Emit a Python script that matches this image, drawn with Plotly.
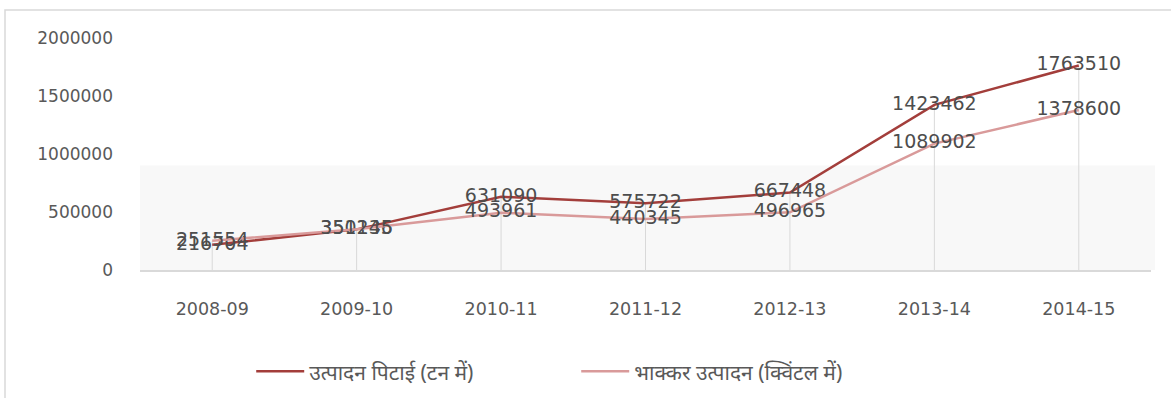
import plotly.graph_objects as go

# Years on the category axis
years = ["2008-09", "2009-10", "2010-11", "2011-12", "2012-13", "2013-14", "2014-15"]

# Threshing output (tonnes) and bhakkar output (quintals)
pitai = [216704, 350136, 631090, 575722, 667448, 1423462, 1763510]
bhakkar = [251554, 351245, 493961, 440345, 496965, 1089902, 1378600]

name_pitai = "उत्पादन पिटाई (टन में)"
name_bhakkar = "भाक्कर उत्पादन (क्विंटल में)"

y_ticks = [0, 500000, 1000000, 1500000, 2000000]

label_font = dict(family="'DejaVu Sans', sans-serif", size=19, color="#4d4d4d")
tick_font = dict(family="'DejaVu Sans', sans-serif", size=17, color="#595959")

fig = go.Figure()

# Drop lines from the higher point of each year down to the axis
drop_x, drop_y = [], []
for yr, a, b in zip(years, pitai, bhakkar):
    drop_x += [yr, yr, None]
    drop_y += [0, max(a, b), None]
fig.add_trace(go.Scatter(
    x=drop_x, y=drop_y, mode="lines",
    line=dict(color="#d9d9d9", width=1),
    showlegend=False, hoverinfo="skip",
))

fig.add_trace(go.Scatter(
    x=years, y=pitai, name=name_pitai,
    mode="lines+text", text=[str(v) for v in pitai],
    textposition="middle center", textfont=label_font,
    line=dict(color="#a33e3b", width=2.5),
))
fig.add_trace(go.Scatter(
    x=years, y=bhakkar, name=name_bhakkar,
    mode="lines+text", text=[str(v) for v in bhakkar],
    textposition="middle center", textfont=label_font,
    line=dict(color="#d99a9a", width=2.5),
))

# Faintly shaded band in the lower part of the plot area
fig.add_shape(
    type="rect", xref="paper", yref="y",
    x0=0, x1=1.004, y0=0, y1=900000,
    fillcolor="#f8f8f8", line=dict(width=0), layer="below",
)

# Outer chart border
fig.add_shape(
    type="rect", xref="paper", yref="paper",
    x0=-135 / 1011, x1=1.2, y0=-1.3, y1=260 / 232,
    line=dict(color="#d9d9d9", width=1.5), fillcolor="rgba(0,0,0,0)",
)

fig.update_layout(
    width=1171, height=398,
    margin=dict(l=140, r=20, t=38, b=128, autoexpand=False),
    paper_bgcolor="white", plot_bgcolor="white",
    showlegend=True,
    legend=dict(
        orientation="h", x=0.11, xanchor="left", y=-0.35, yanchor="top",
        font=dict(family="'Noto Sans', 'DejaVu Sans', sans-serif", size=21, color="#595959"),
        entrywidth=262, itemwidth=48,
    ),
)

fig.update_xaxes(
    type="category", range=[-0.5, 6.5],
    showgrid=False, zeroline=False,
    showline=True, linecolor="#d9d9d9", linewidth=1.5,
    ticks="", tickfont=dict(tick_font, size=17.5), ticklabelstandoff=22,
)
fig.update_yaxes(
    range=[0, 2000000], tickvals=y_ticks, ticktext=[str(v) for v in y_ticks],
    showgrid=False, zeroline=False, showline=False,
    ticks="", tickfont=tick_font, ticklabelstandoff=26,
)

fig.write_html("out.html")
